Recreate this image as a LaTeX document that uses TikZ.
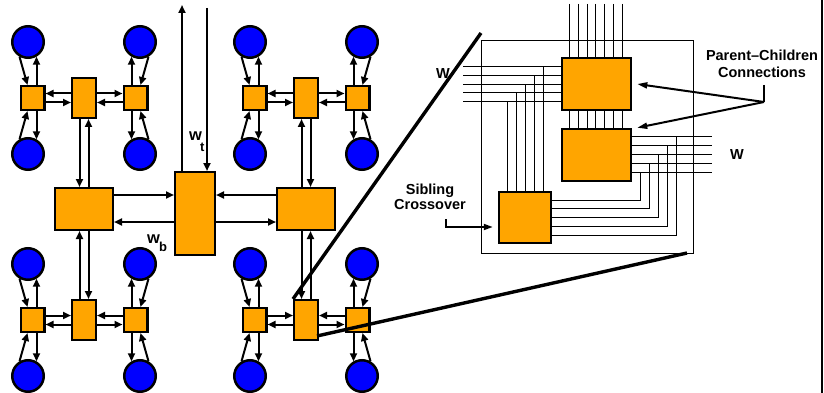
\documentclass[tikz,border=0pt]{standalone}
\usepackage{fontspec}
\setmainfont{Liberation Sans}
\usetikzlibrary{arrows.meta}
\definecolor{orng}{RGB}{255,165,0}
\definecolor{blu}{RGB}{0,0,255}
\begin{document}
\begin{tikzpicture}[x=1pt,y=-1pt,
  leaf/.style={circle,draw=black,fill=blu,line width=2.5pt,minimum size=31.5pt,inner sep=0pt},
  sq/.style={rectangle,draw=black,fill=orng,line width=2.3pt,inner sep=0pt,minimum width=23.7pt,minimum height=23.7pt},
  midr/.style={sq,minimum height=39.7pt},
  medr/.style={sq,minimum width=57.7pt,minimum height=41.7pt},
  ctr/.style={sq,minimum width=39.7pt,minimum height=82.7pt},
  bigbox/.style={sq,line width=2pt,minimum width=69.5pt,minimum height=52.5pt},
  arr/.style={line width=2pt,-{Triangle[length=8pt,width=7pt]}},
  parr/.style={line width=2pt,-{Triangle[length=10pt,width=6pt]}},
  wire/.style={line width=0.9pt},
  zoomline/.style={line width=3.4pt},
  lab/.style={font=\fontsize{14.5}{17}\selectfont\bfseries,align=center,inner sep=0pt},
]
\fill[white] (0,0) rectangle (824,393);
\useasboundingbox (0,0) rectangle (824,393);

% ---------- left: tree ----------
\node[medr] (Lmed) at (84,209) {};
\node[medr] (Rmed) at (306,209) {};
\node[ctr] (C) at (195,213.5) {};

\foreach \q/\X/\Y/\t/\s/\M/\ma/\mb in {TL/84/98/1/1/Lmed/south/north, TR/306/98/1/-1/Rmed/south/north, BL/84/320/-1/1/Lmed/north/south, BR/306/320/-1/-1/Rmed/north/south} {
  \pgfmathsetlengthmacro\yo{\t*4.5pt}
  \pgfmathsetlengthmacro\yi{\t*(-4.5pt)}
  \pgfmathsetlengthmacro\xo{\s*(-4.5pt)}
  \pgfmathsetlengthmacro\xi{\s*4.5pt}
  \node[midr] (\q m) at (\X,\Y) {};
  \node[sq] (\q l) at (\X-51.5,\Y) {};
  \node[sq] (\q r) at (\X+51.5,\Y) {};
  \node[leaf] (\q la) at (\X-56,\Y-56) {};
  \node[leaf] (\q lb) at (\X-56,\Y+56) {};
  \node[leaf] (\q ra) at (\X+56,\Y-56) {};
  \node[leaf] (\q rb) at (\X+56,\Y+56) {};
  % leaves
  \draw[arr] (\q la.-60 |- \q l.north) -- (\q la.-60);
  \draw[arr] (\q la.-120) -- ([xshift=-5pt]\q l.north);
  \draw[arr] (\q lb.60 |- \q l.south) -- (\q lb.60);
  \draw[arr] (\q lb.120) -- ([xshift=-5pt]\q l.south);
  \draw[arr] (\q ra.-120 |- \q r.north) -- (\q ra.-120);
  \draw[arr] (\q ra.-60) -- ([xshift=5pt]\q r.north);
  \draw[arr] (\q rb.120 |- \q r.south) -- (\q rb.120);
  \draw[arr] (\q rb.60) -- ([xshift=5pt]\q r.south);
  % squares <-> mid
  \draw[arr] ([yshift=\yo]\q m.west) -- ([yshift=\yo]\q m.west -| \q l.east);
  \draw[arr] ([yshift=\yo]\q m.east) -- ([yshift=\yo]\q m.east -| \q r.west);
  \draw[arr] ([yshift=\yi]\q m.west -| \q l.east) -- ([yshift=\yi]\q m.west);
  \draw[arr] ([yshift=\yi]\q m.east -| \q r.west) -- ([yshift=\yi]\q m.east);
  % mid <-> medium
  \draw[arr] ([xshift=\xo]\q m.\ma) -- ([xshift=\xo]\q m.\ma |- \M.\mb);
  \draw[arr] ([xshift=\xi]\q m.\ma |- \M.\mb) -- ([xshift=\xi]\q m.\ma);
}

% medium <-> centre
\draw[arr] ([yshift=14pt]Lmed.east) -- ([yshift=14pt]Lmed.east -| C.west);
\draw[arr] ([yshift=-13pt]Lmed.east -| C.west) -- ([yshift=-13pt]Lmed.east);
\draw[arr] ([yshift=14pt]Rmed.west) -- ([yshift=14pt]Rmed.west -| C.east);
\draw[arr] ([yshift=-13pt]Rmed.west -| C.east) -- ([yshift=-13pt]Rmed.west);

% top links
\coordinate (tUp) at (182,5);
\coordinate (tDn) at (207,8);
\draw[arr] (tUp |- C.north) -- (tUp);
\draw[arr] (tDn) -- (tDn |- C.north);

\node[anchor=base west,inner sep=0pt,font=\fontsize{16.5}{16.5}\selectfont\bfseries] (wt) at (189,140) {w\kern-2pt\raisebox{-11.5pt}{\fontsize{13}{13}\selectfont t}};
\node[anchor=base west,inner sep=0pt,font=\fontsize{16.5}{16.5}\selectfont\bfseries] (wb) at (147,243.3) {w\kern-1pt\raisebox{-8.5pt}{\fontsize{13}{13}\selectfont b}};

% ---------- right: blow-up ----------
\draw[wire] (481,40) rectangle (693,253);

\node[bigbox] (bA) at (596.5,84) {};
\node[bigbox] (bB) at (596.5,155) {};
\node[bigbox,minimum width=52.5pt,minimum height=51.5pt] (bC) at (525,217.5) {};

\foreach \i in {0,...,6} {
  \pgfmathsetmacro\xx{569.3+8.83*\i}
  \draw[wire] (\xx,4) -- (\xx,0 |- bA.north);
  \draw[wire] (\xx,0 |- bA.south) -- (\xx,0 |- bB.north);
}
\foreach \i in {0,...,4} {
  \pgfmathsetmacro\yy{66.7+8.7*\i}
  \pgfmathsetmacro\xx{543-8.9*\i}
  \draw[wire] (463,\yy) -- (bA.west |- 0,\yy);
  \draw[wire] (\xx,\yy) -- (\xx,0 |- bC.north);
}
\foreach \k in {0,...,4} {
  \pgfmathsetmacro\yb{136.7+8.9*\k}
  \pgfmathsetmacro\yc{235-8.75*\k}
  \pgfmathsetmacro\xx{676-9*\k}
  \draw[wire] (bB.east |- 0,\yb) -- (712,\yb);
  \draw[wire] (\xx,\yb) -- (\xx,\yc) -- (bC.east |- 0,\yc);
}

\node[lab] (wl) at (443,74) {W};
\node[lab] (wr) at (737,155) {W};
\node[lab,anchor=north] (pc) at (762,49.5) {Parent–Children\\Connections};
\node[lab,anchor=north,font=\fontsize{14.5}{15}\selectfont\bfseries] (sc) at (430,184) {Sibling\\Crossover};

\coordinate (pcs) at (764,85);
\coordinate (pcj) at (764,102);
\draw[line width=2pt] (pcs) -- (pcj);
\draw[parr] (pcj) -- ([xshift=5pt]bA.east);
\draw[parr] (pcj) -- ([xshift=5pt]bB.north east);

\coordinate (sibs) at (446,219);
\draw[line width=1.8pt,-{Triangle[length=9pt,width=6pt]}] (sibs) |- ([shift={(-5pt,-9.5pt)}]bC.west);

% zoom lines
\coordinate (z1) at (481,33);
\coordinate (z2) at (687,253);
\draw[zoomline] (BRm.north west) -- (z1);
\draw[zoomline] ([shift={(-2pt,5pt)}]BRm.south east) -- (z2);

\draw[line width=2.2pt] (822,0) -- (822,393);
\end{tikzpicture}
\end{document}
